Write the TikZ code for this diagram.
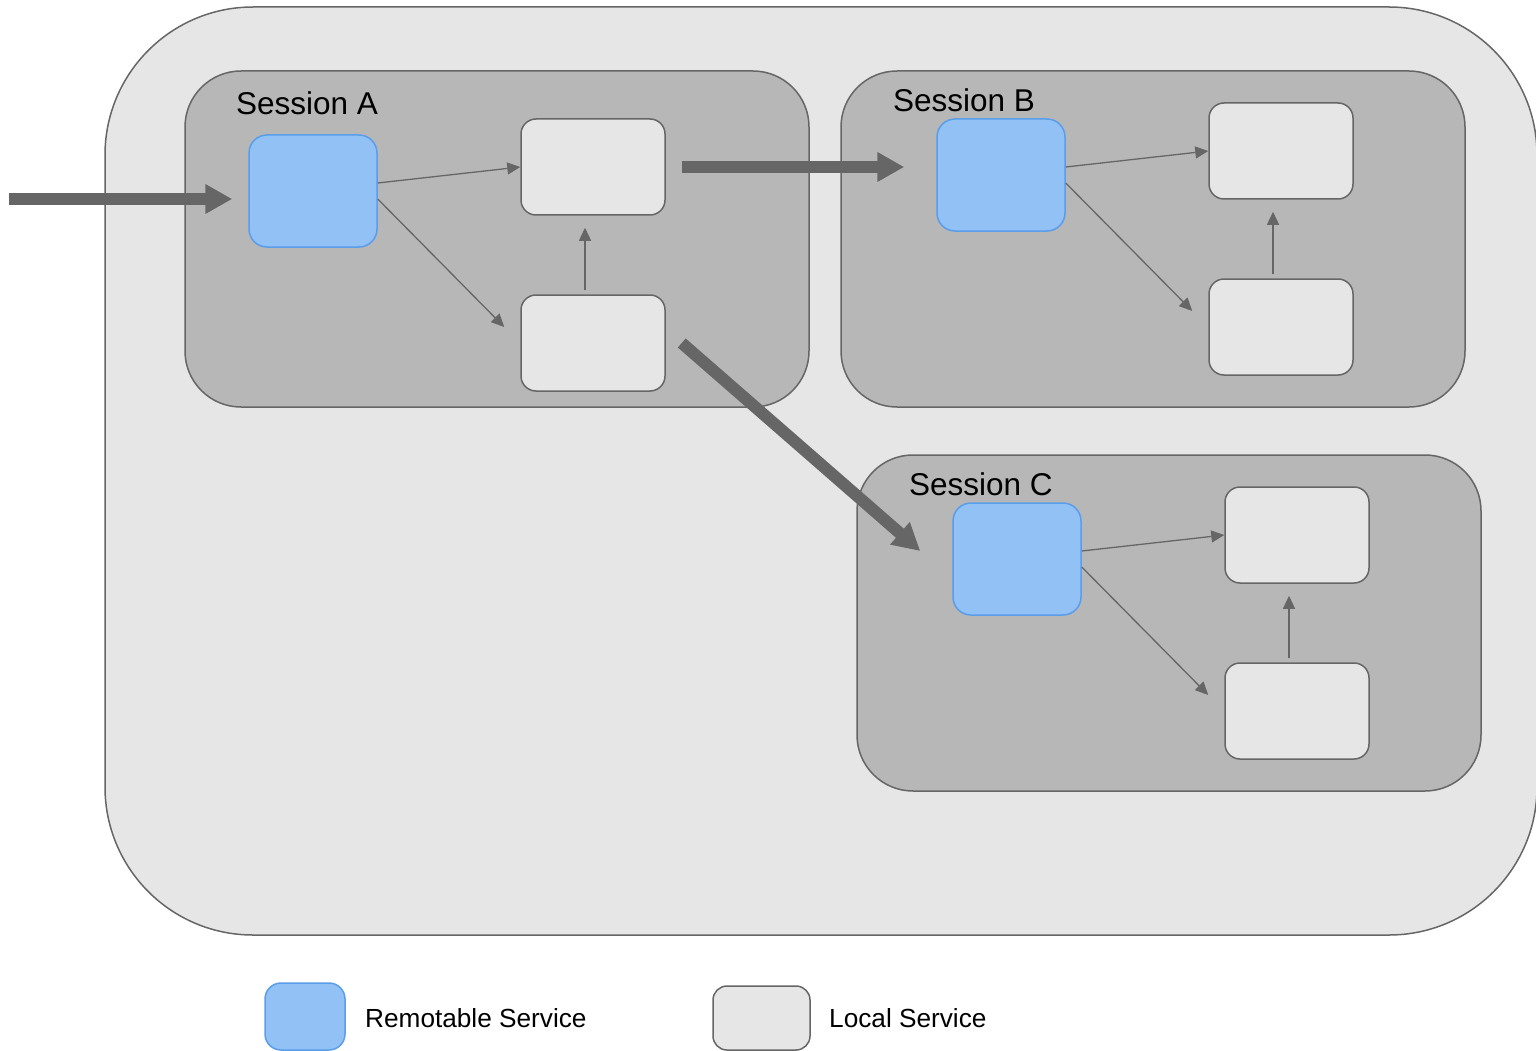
\documentclass[tikz,border=0pt]{standalone}
\usepackage{fontspec}
\setmainfont{Liberation Sans}
\usetikzlibrary{arrows.meta}

\definecolor{edge}{HTML}{666666}
\definecolor{hostfill}{HTML}{E6E6E6}
\definecolor{sessfill}{HTML}{B7B7B7}
\definecolor{remfill}{HTML}{92C1F5}
\definecolor{remedge}{HTML}{5A9EEA}
\definecolor{locfill}{HTML}{E6E6E6}

\tikzset{
  host/.style={draw=edge, fill=hostfill, line width=1.5pt, rounded corners=148pt,
    minimum width=1432pt, minimum height=928pt, inner sep=0pt},
  session/.style={draw=edge, fill=sessfill, line width=1.5pt, rounded corners=56pt,
    minimum width=624pt, minimum height=336pt, inner sep=0pt},
  remote/.style={draw=remedge, fill=remfill, line width=1.5pt, rounded corners=18pt,
    minimum width=128pt, minimum height=112pt, inner sep=0pt},
  localsvc/.style={draw=edge, fill=locfill, line width=1.5pt, rounded corners=15pt,
    minimum width=144pt, minimum height=96pt, inner sep=0pt},
  call/.style={draw=edge, line width=1.3pt, -{Triangle[length=13pt,width=12pt]}},
  handoff/.style={draw=edge, line width=12pt, -{Triangle[length=27pt,width=28pt]}},
  title/.style={anchor=base west, inner sep=0pt, font=\fontsize{31.5}{36}\selectfont},
  legendtext/.style={anchor=base west, inner sep=0pt, font=\fontsize{26.2}{30}\selectfont},
}

\begin{document}
\begin{tikzpicture}[x=1pt, y=-1pt]
  \useasboundingbox (0,0) rectangle (1536,1051);

  % host process
  \node[host] (host) at (821,471) {};

  % sessions
  \node[session] (sessA) at (497,239) {};
  \node[session] (sessB) at (1153,239) {};
  \node[session] (sessC) at (1169,623) {};

  \node[title] (titleA) at (236,115) {Session A};
  \node[title] (titleB) at (893,112) {Session B};
  \node[title] (titleC) at (909,495) {Session C};

  % services in session A
  \node[remote]   (remA)  at (313,191) {};
  \node[localsvc] (locA1) at (593,167) {};
  \node[localsvc] (locA2) at (593,343) {};

  % services in session B
  \node[remote]   (remB)  at (1001,175) {};
  \node[localsvc] (locB1) at (1281,151) {};
  \node[localsvc] (locB2) at (1281,327) {};

  % services in session C
  \node[remote]   (remC)  at (1017,559) {};
  \node[localsvc] (locC1) at (1297,535) {};
  \node[localsvc] (locC2) at (1297,711) {};

  % calls inside each session
  \foreach \r/\a/\b in {remA/locA1/locA2, remB/locB1/locB2, remC/locC1/locC2}{
    \draw[call] ([yshift=8pt]\r.east) -- (\a.west);
    \draw[call] ([yshift=-8pt]\r.east) -- ([shift={(-16pt,16pt)}]\b.west);
    \draw[call] ([shift={(-8pt,4pt)}]\b.north) -- ([shift={(-8pt,-12pt)}]\a.south);
  }

  % remote hand-offs
  \coordinate (client) at (9,199);
  \draw[handoff] (client) -- ([shift={(-16pt,-8pt)}]remA.west);
  \draw[handoff] ([xshift=16pt]locA1.east) -- ([shift={(-32pt,8pt)}]remB.west);
  \draw[handoff] ([xshift=16pt]locA2.east) -- ([shift={(-32pt,8pt)}]remC.west);

  % legend
  \node[remote, minimum width=80pt, minimum height=67pt, rounded corners=16pt] (keyRem) at (305,1016.5) {};
  \node[legendtext] (keyRemText) at (365,1027) {Remotable Service};
  \node[localsvc, minimum width=97pt, minimum height=64pt, rounded corners=14pt] (keyLoc) at (761.5,1018) {};
  \node[legendtext] (keyLocText) at (829,1027) {Local Service};
\end{tikzpicture}
\end{document}
